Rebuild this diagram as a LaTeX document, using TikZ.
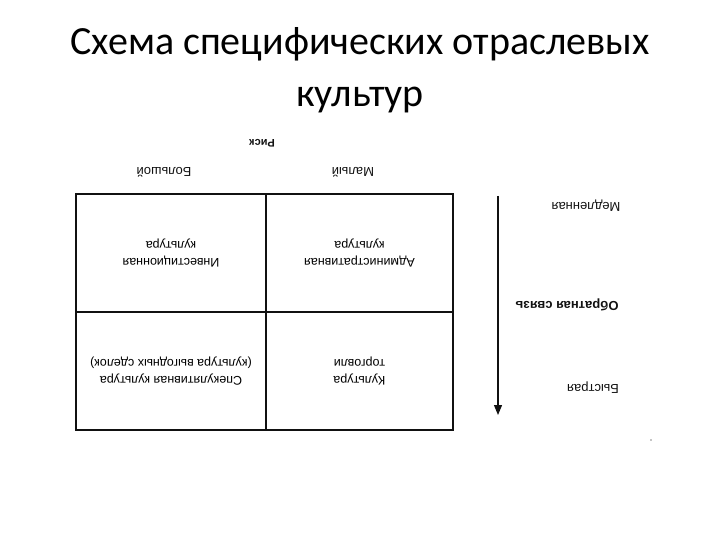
\documentclass[tikz,border=0pt]{standalone}
\usepackage{fontspec}
\setmainfont{Liberation Sans}
\newfontfamily\titlefont{Carlito}
\usepackage{xcolor}
\definecolor{cInk}{HTML}{111111}
\definecolor{cSpeck}{HTML}{8A8A8A}
\usetikzlibrary{positioning,arrows.meta}
\tikzset{
  % the scanned scheme is printed upside down
  cell-box/.style={draw=cInk,line width=1.2pt,rotate=180,align=center,
    inner sep=0pt,minimum height=118pt,font=\fontsize{12.5}{16.5}\selectfont},
  label-flip/.style={rotate=180,align=center,inner sep=1pt,
    font=\fontsize{13}{16}\selectfont,text=cInk},
  label-flip-bold/.style={label-flip,font=\bfseries\fontsize{13}{16}\selectfont},
  arrow-down/.style={-{Triangle[length=10pt,width=8pt]},line width=1.2pt,draw=cInk},
}

\begin{document}
\begin{tikzpicture}[x=1pt,y=-1pt]
  \useasboundingbox (0,0) rectangle (720,540);
  \node[font=\titlefont\fontsize{40}{52}\selectfont,align=center] (title) at (360,70)
    {Схема специфических отраслевых\\культур};

  \node[label-flip-bold,font=\bfseries\fontsize{11}{13}\selectfont] (risk) at (262,143) {Риск};
  \node[label-flip] (riskHigh) at (164,172) {Большой};
  \node[label-flip] (riskLow) at (353,172) {Малый};

  \node[cell-box,minimum width=190pt] (cInvest) at (171,253) {Инвестиционная\\культура};
  \node[cell-box,minimum width=187pt] (cAdmin) at (359.5,253) {Административная\\культура};
  \node[cell-box,minimum width=190pt] (cSpec) at (171,371)
    {Спекулятивная культура\\(культура выгодных сделок)};
  \node[cell-box,minimum width=187pt] (cTrade) at (359.5,371) {Культура\\торговли};

  \coordinate (fbTop) at (498,196);
  \coordinate (fbBot) at (498,415);
  \draw[arrow-down] (fbTop) -- (fbBot);
  \node[label-flip] (fbSlow) at (586,206) {Медленная};
  \node[label-flip-bold] (fbName) at (567,305) {Обратная связь};
  \node[label-flip] (fbFast) at (593,388) {Быстрая};

  \fill[cSpeck] (651,440) circle (0.8pt);
\end{tikzpicture}
\end{document}
